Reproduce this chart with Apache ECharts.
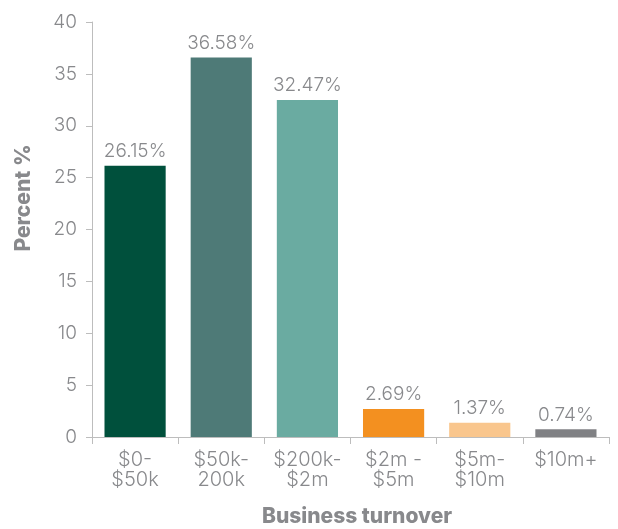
<!DOCTYPE html>
<html><head><meta charset="utf-8">
<script src="https://cdn.jsdelivr.net/npm/echarts@6/dist/echarts.min.js"></script>
<style>html,body{margin:0;padding:0;background:#fff}#c{width:618px;height:529px}</style>
</head><body><div id="c"></div>
<script>
const categories = ['$0-\n$50k', '$50k-\n200k', '$200k-\n$2m', '$2m -\n$5m', '$5m-\n$10m', '$10m+'];
const values = [26.15, 36.58, 32.47, 2.69, 1.37, 0.74];
const barColors = ['#00503c', '#4e7a77', '#6aaba1', '#f39020', '#f9c68d', '#808184'];
const yTicks = [0, 5, 10, 15, 20, 25, 30, 35, 40];

const textGray = '#88898c';
const font = 'Inter, "Open Sans", sans-serif';
const chart = echarts.init(document.getElementById('c'));
chart.setOption({
  animation: false,
  grid: { left: 92, right: 9, top: 22, bottom: 92, containLabel: false },
  xAxis: {
    type: 'category', data: categories,
    axisLine: { lineStyle: { color: '#bdbdbd', width: 1 } },
    axisTick: { show: true, length: 7, lineStyle: { color: '#bdbdbd' } },
    axisLabel: { color: textGray, fontSize: 20, fontWeight: 300, lineHeight: 20, fontFamily: font, margin: 13, interval: 0 }
  },
  yAxis: {
    type: 'value', min: yTicks[0], max: yTicks[yTicks.length - 1], interval: 5,
    splitLine: { show: false },
    axisLine: { show: true, lineStyle: { color: '#bdbdbd', width: 1 } },
    axisTick: { show: true, length: 6, lineStyle: { color: '#bdbdbd' } },
    axisLabel: { color: textGray, fontSize: 19, fontWeight: 300, fontFamily: font, margin: 15 }
  },
  series: [{
    type: 'bar', barWidth: '71%',
    data: values.map((v, i) => ({ value: v, itemStyle: { color: barColors[i] } })),
    label: { show: true, position: 'top', distance: 5, color: textGray, fontSize: 19, fontWeight: 300, fontFamily: font,
      formatter: p => p.value.toFixed(2) + '%' }
  }],
  graphic: [
    { type: 'text', x: 357, y: 506, style: { text: 'Business turnover', fill: textGray, font: '800 21px ' + font, textAlign: 'center' } },
    { type: 'text', x: 13, y: 198, rotation: Math.PI / 2, style: { text: 'Percent %', fill: textGray, font: '800 21px ' + font, textAlign: 'center', textVerticalAlign: 'top' } }
  ]
});
</script></body></html>
